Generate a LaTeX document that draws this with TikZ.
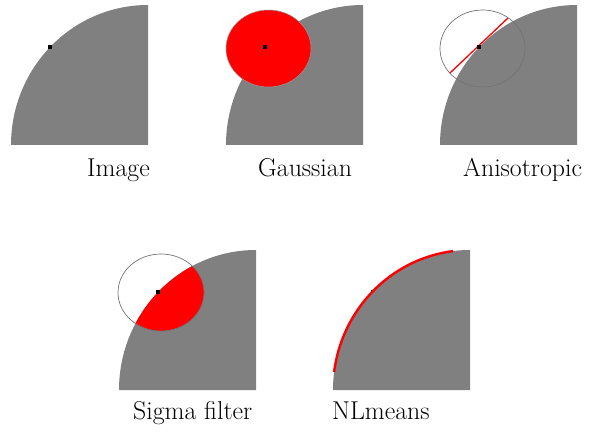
\documentclass[tikz,border=0pt]{standalone}
\begin{document}
\begin{tikzpicture}[x=1pt,y=-1pt,
  disc/.style={fill=gray},
  dotmark/.style={fill=black},
  win/.style={draw=black!55, line width=0.7pt},
  lab/.style={font=\fontsize{25.8}{30}\selectfont, anchor=base west, inner sep=0pt}]
\useasboundingbox (0,0) rectangle (592,433);
\newcommand\quarterdisc[1]{\fill[disc] (#1) -- ++(-137,0) arc[start angle=180,end angle=270,x radius=137,y radius=140] -- cycle;}
\newcommand\centerdot[1]{\fill[dotmark] (#1) ++(-2,-2) rectangle ++(4,4);}
% Panel 1: Image
\quarterdisc{148,145}
\centerdot{50,47}
% Panel 2: Gaussian
\quarterdisc{363,145}
\fill[red, draw=black!40, line width=0.5pt] (268.5,48.5) ellipse[x radius=42.5, y radius=38.5];
\centerdot{265,47}
% Panel 3: Anisotropic
\quarterdisc{577,145}
\draw[win] (482.5,48.5) ellipse[x radius=42.5, y radius=38.5];
\draw[red, line width=1.3pt] (450,73) -- (508,18);
\centerdot{479,47}
% Panel 4: Sigma filter
\quarterdisc{256,390}
\begin{scope}
  \clip (256,390) -- ++(-137,0) arc[start angle=180,end angle=270,x radius=137,y radius=140] -- cycle;
  \fill[red] (161,292.5) ellipse[x radius=43, y radius=38.5];
\end{scope}
\draw[win] (161,292.5) ellipse[x radius=43, y radius=38.5];
\centerdot{158,292}
% Panel 5: NLmeans
\quarterdisc{470,390}
\fill[dotmark] (372,291) ++(-1.2,-1.2) rectangle ++(2.4,2.4);
\draw[red, line width=2.4pt] (334.1,372) arc[start angle=187.4,end angle=262.9,x radius=137,y radius=140];
% Labels
\node[lab] (l1) at (87,177) {Image};
\node[lab] (l2) at (258,177) {Gaussian};
\node[lab] (l3) at (463,177) {Anisotropic};
\node[lab] (l4) at (133,419) {Sigma filter};
\node[lab] (l5) at (332,419) {NLmeans};
\end{tikzpicture}
\end{document}
